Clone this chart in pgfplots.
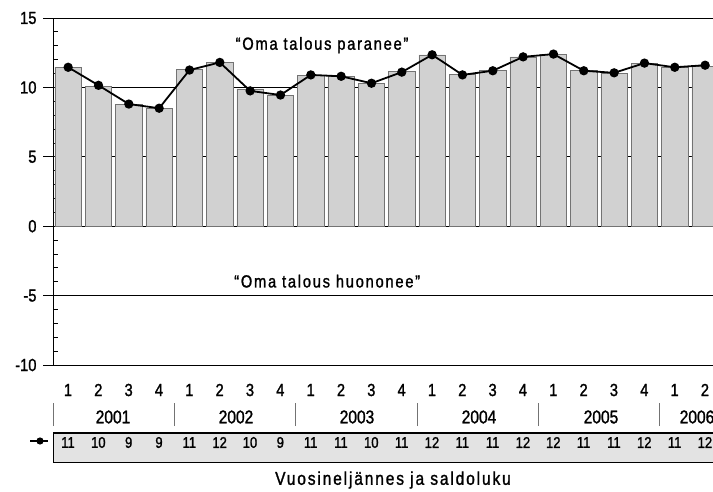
\documentclass[border=0pt]{standalone}
\usepackage{fontspec}
\setmainfont[FakeStretch=0.84,FakeBold=1.3]{Liberation Sans}
\newfontfamily\spacedfont[FakeStretch=0.84,FakeBold=1.3,LetterSpace=10]{Liberation Sans}
\usepackage{pgfplots}
\pgfplotsset{compat=1.18}

\begin{document}
\begin{tikzpicture}
\path[use as bounding box] (0pt,0pt) rectangle (713pt,491pt);
\begin{axis}[
  at={(53pt,126pt)}, anchor=south west,
  scale only axis, width=660pt, height=347pt,
  xmin=-0.5, xmax=21.26, ymin=-10, ymax=15,
  clip=false,
  axis line style={draw=none},
  xtick=\empty,
  ytick={-10,-5,0,5,10,15},
  yticklabels={-10,-5,0,5,10,15},
  ytick pos=left,
  tick align=outside,
  major tick length=10pt,
  tick style={black, line width=0.8pt},
  yticklabel style={font=\fontsize{17.5}{19}\selectfont, xshift=-3pt},
  ymajorgrids, grid style={black, line width=0.8pt},
  extra y ticks={-9,-8,-7,-6,-4,-3,-2,-1,1,2,3,4,6,7,8,9,11,12,13,14},
  extra y tick labels={},
  extra y tick style={tick align=inside, major tick length=5pt, grid=none},
]
\addplot[ybar, bar width=0.87, fill=black!18, draw=black!55, line width=0.5pt]
  coordinates {(0,11.45) (1,10.1) (2,8.8) (3,8.5) (4,11.3) (5,11.8) (6,9.9) (7,9.4)
               (8,10.85) (9,10.8) (10,10.3) (11,11.15) (12,12.35) (13,10.95) (14,11.2) (15,12.2)
               (16,12.4) (17,11.2) (18,11.0) (19,11.75) (20,11.45) (21,11.5)};
\addplot[black, line width=1.8pt, mark=*, mark size=3.7pt, mark options={fill=black}]
  coordinates {(0,11.45) (1,10.15) (2,8.8) (3,8.5) (4,11.25) (5,11.8) (6,9.75) (7,9.45)
               (8,10.9) (9,10.8) (10,10.3) (11,11.1) (12,12.35) (13,10.9) (14,11.2) (15,12.2)
               (16,12.4) (17,11.2) (18,11.05) (19,11.75) (20,11.45) (21,11.6)};
\draw[black, line width=0.9pt] (axis cs:-0.5,15) -- (axis cs:21.26,15);
\draw[black, line width=0.9pt] (axis cs:-0.5,-10) -- (axis cs:21.26,-10);
\draw[black, line width=0.9pt] (axis cs:-0.5,-10) -- (axis cs:-0.5,15);
\node[font=\spacedfont\fontsize{17.5}{20}\selectfont] at (axis cs:8.37,13.04) {“Oma talous paranee”};
\node[font=\spacedfont\fontsize{17.5}{20}\selectfont] at (axis cs:8.54,-3.96) {“Oma talous huononee”};
\end{axis}
\begin{scope}[x=1pt,y=1pt]
% quarter labels
\foreach \q [count=\i from 0] in {1,2,3,4,1,2,3,4,1,2,3,4,1,2,3,4,1,2,3,4,1,2}
  \node[font=\fontsize{17.5}{19}\selectfont] at (68+30.33*\i,101) {\q};
% year labels
\foreach \y/\xx in {2001/113,2002/236,2003/357,2004/479,2005/601,2006/697}
  \node[font=\fontsize{18.5}{20}\selectfont] at (\xx,74) {\y};
\foreach \k in {0,...,5}
  \draw[black!55, line width=0.7pt] (53+121.33*\k,65) -- (53+121.33*\k,88);
% saldoluku box
\draw[fill=black!11, line width=0.8pt] (53,29) rectangle (725,58);
\draw[line width=1.5pt] (53,58) -- (725,58);
\foreach \v [count=\i from 0] in {11,10,9,9,11,12,10,9,11,11,10,11,12,11,11,12,12,11,11,12,11,12}
  \node[font=\fontsize{15.5}{17}\selectfont] at (68+30.33*\i,48.5) {\v};
\draw[line width=1.6pt] (30,50) -- (48,50);
\fill (40,50) circle (3.6);
\node[font=\spacedfont\fontsize{18.5}{20}\selectfont] at (393,11) {Vuosineljännes ja saldoluku};
\end{scope}
\end{tikzpicture}
\end{document}
